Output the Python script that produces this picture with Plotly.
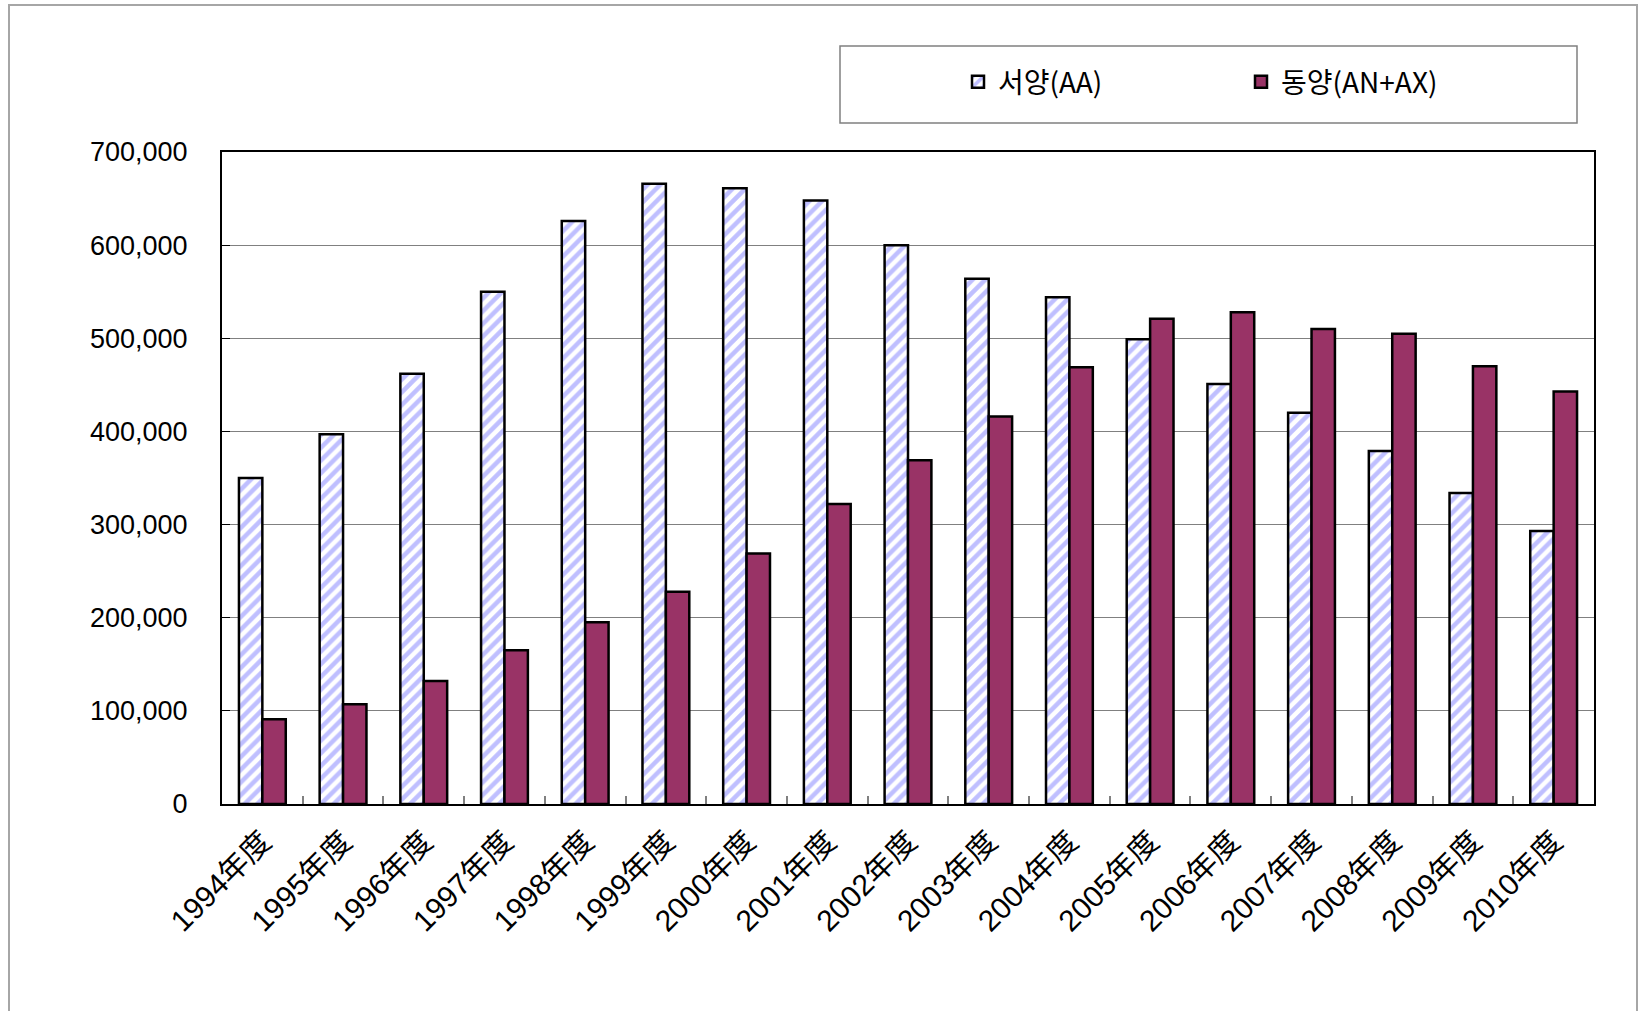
import plotly.graph_objects as go

years = ["1994年度", "1995年度", "1996年度", "1997年度", "1998年度", "1999年度",
         "2000年度", "2001年度", "2002年度", "2003年度", "2004年度", "2005年度",
         "2006年度", "2007年度", "2008年度", "2009年度", "2010年度"]
western = [350000, 397000, 462000, 550000, 626000, 666000, 661000, 648000, 600000,
           564000, 544000, 499000, 451000, 420000, 379000, 334000, 293000]
eastern = [91000, 107000, 132000, 165000, 195000, 228000, 269000, 322000, 369000,
           416000, 469000, 521000, 528000, 510000, 505000, 470000, 443000]
series_names = ["서양(AA)", "동양(AN+AX)"]
y_ticks = [0, 100000, 200000, 300000, 400000, 500000, 600000, 700000]

W, H = 1642, 1011
L, R, T, B = 222, 48, 152, 207
pw, ph = W - L - R, H - T - B


def px_x(x):
    return (x - L) / pw


def px_y(y):
    return (H - B - y) / ph


FONT = "Liberation Sans, Noto Sans CJK JP, Noto Sans CJK KR, sans-serif"
KFONT = "Noto Sans CJK KR, Liberation Sans, sans-serif"

fig = go.Figure()
fig.add_trace(go.Bar(
    x=years, y=western, name=series_names[0],
    marker=dict(color="white",
                pattern=dict(shape="/", fgcolor="#8080ff", bgcolor="white",
                             size=9, solidity=0.5),
                line=dict(color="black", width=2.5)),
))
fig.add_trace(go.Bar(
    x=years, y=eastern, name=series_names[1],
    marker=dict(color="#993366", line=dict(color="black", width=2.5)),
))

fig.update_layout(
    width=W, height=H,
    margin=dict(l=L, r=R, t=T, b=B, pad=0),
    paper_bgcolor="white", plot_bgcolor="white",
    barmode="group", bargap=0.42, bargroupgap=0,
    font=dict(family=FONT, size=27, color="black"),
    showlegend=True,
    legend=dict(orientation="h", x=px_x(958), xanchor="left",
                y=px_y(82), yanchor="middle",
                bgcolor="rgba(0,0,0,0)", borderwidth=0,
                font=dict(family=KFONT, size=28, color="black"),
                entrywidth=238, entrywidthmode="pixels",
                traceorder="normal"),
    shapes=[
        dict(type="rect", xref="paper", yref="paper",
             x0=px_x(9), x1=px_x(1637), y0=px_y(1030), y1=px_y(5),
             line=dict(color="#a6a6a6", width=2), fillcolor="rgba(0,0,0,0)", layer="below"),
        dict(type="rect", xref="paper", yref="paper",
             x0=px_x(840), x1=px_x(1577), y0=px_y(123), y1=px_y(46),
             line=dict(color="#808080", width=1.5), fillcolor="rgba(0,0,0,0)", layer="below"),
    ],
)

fig.update_xaxes(
    type="category", tickangle=-45,
    showline=True, linecolor="black", linewidth=2, mirror=True,
    ticks="inside", tickson="boundaries", ticklen=8, tickcolor="#808080", tickwidth=1.5,
    showgrid=False, tickfont=dict(family=FONT, size=30), ticklabelstandoff=6,
)
fig.update_yaxes(
    range=[0, 700000], tickvals=y_ticks, tickformat=",d",
    showline=True, linecolor="black", linewidth=2, mirror=True,
    ticks="inside", ticklen=8, tickcolor="black", tickwidth=1,
    showgrid=True, gridcolor="#808080", gridwidth=1, zeroline=False,
    tickfont=dict(family=FONT, size=27), ticklabelstandoff=27,
)

fig.write_html("out.html", config={"displayModeBar": False},
               post_script="document.body.style.margin='0';document.body.style.overflow='hidden';")
